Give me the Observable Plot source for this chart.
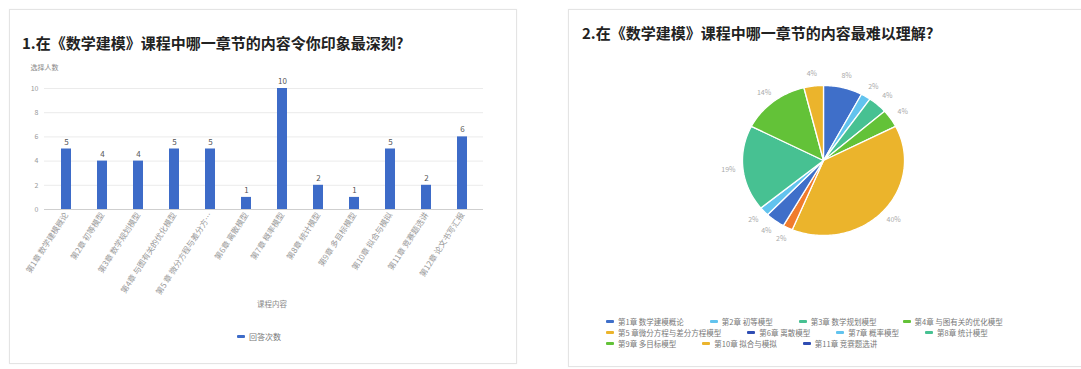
<!DOCTYPE html>
<html><head><meta charset="utf-8">
<script src="https://cdn.jsdelivr.net/npm/d3@7"></script>
<script src="https://cdn.jsdelivr.net/npm/@observablehq/plot@0.6"></script>
<style>
body{margin:0;background:#fff;font-family:"Noto Sans CJK SC","Noto Sans",sans-serif;width:1081px;height:369px;overflow:hidden;position:relative}
.card{position:absolute;border:1px solid #e4e4e4;background:#fff;box-shadow:0 0 2px rgba(0,0,0,0.04)}
.title{position:absolute;font-size:15px;font-weight:bold;color:#222;white-space:nowrap;line-height:1}
.abs{position:absolute}
.leg{position:absolute;font-size:7.5px;color:#777;white-space:nowrap;line-height:11px}
.sw{display:inline-block;width:8px;height:3px;border-radius:1px;vertical-align:middle;margin-right:4px;position:relative;top:-1px}
.item{margin-right:26px}
</style></head><body>
<div class="card" style="left:9px;top:9px;width:506px;height:353px"></div>
<div class="card" style="left:568px;top:9px;width:530px;height:356px"></div>
<div class="title" style="left:22px;top:35px">1.在《数学建模》课程中哪一章节的内容令你印象最深刻?</div>
<div class="title" style="left:582px;top:25px">2.在《数学建模》课程中哪一章节的内容最难以理解?</div>
<div id="bar" class="abs" style="left:10px;top:55px"></div>
<div id="barleg" class="leg" style="left:237px;top:331px;font-size:8px"></div>
<div id="pie" class="abs" style="left:568px;top:50px"></div>
<div id="pieleg" class="leg" style="left:606px;top:316px"></div>
<script>
// ---- data: bar chart ----
const barChapters = ["第1章 数学建模概论","第2章 初等模型","第3章 数学规划模型","第4章 与图有关的优化模型","第5 章 微分方程与差分方…","第6章 离散模型","第7章 概率模型","第8章 统计模型","第9章 多目标模型","第10章 拟合与模拟","第11章 竞赛题选讲","第12章 论文书写汇报"];
const barCounts = [5,4,4,5,5,1,10,2,1,5,2,6];
const yTicks = [0,2,4,6,8,10];
const barSeries = "回答次数";
const yLabel = "选择人数";
const xLabel = "课程内容";
// ---- data: pie chart ----
const pieChapters = ["第1章 数学建模概论","第2章 初等模型","第3章 数学规划模型","第4章 与图有关的优化模型","第5 章微分方程与差分方程模型","第6章 离散模型","第7章 概率模型","第8章 统计模型","第9章 多目标模型","第10章 拟合与模拟","第11章 竞赛题选讲"];
const piePercents = [8,2,4,4,40,2,4,2,19,14,4];
const pieColors = ["#3f6fc9","#62c3ee","#47c192","#63c238","#ebb42c","#f07c2c","#3f6fc9","#62c3ee","#47c192","#63c238","#ebb42c"];
const legendColors = ["#3f6fc9","#62c3ee","#47c192","#63c238","#ebb42c","#2f4db3","#62c3ee","#47c192","#63c238","#ebb42c","#2f4db3"];
const barColor = "#3d6bc8";

// ---- bar chart ----
const barData = barChapters.map((c,i)=>({c, v: barCounts[i]}));
const bar = Plot.plot({
  width: 500, height: 300,
  marginLeft: 34, marginRight: 27, marginTop: 33, marginBottom: 146,
  style: {fontFamily: '"Noto Sans CJK SC","Noto Sans",sans-serif', background: "transparent"},
  x: {domain: barChapters, paddingInner: 0.73, paddingOuter: 0.36},
  y: {domain: [0,10]},
  marks: [
    Plot.ruleY(yTicks.filter(d=>d>0), {stroke: "#ebebeb", strokeWidth: 1}),
    Plot.ruleY([0], {stroke: "#cfcfcf", strokeWidth: 1}),
    Plot.barY(barData, {x: "c", y: "v", fill: barColor}),
    Plot.text(barData, {x: "c", y: "v", text: d=>String(d.v), dy: -7, fontSize: 8, fill: "#555"}),
    Plot.axisY({ticks: yTicks, tickSize: 0, tickPadding: 6, fontSize: 7, color: "#999", label: null}),
    Plot.axisX({tickSize: 0, tickPadding: 4, tickRotate: -57, fontSize: 8, color: "#999", label: null}),
    Plot.text([yLabel], {frameAnchor: "top-left", dx: -14, dy: -23, textAnchor: "start", fontSize: 7, fill: "#888"}),
    Plot.text([xLabel], {frameAnchor: "bottom", dx: 8, dy: 97, fontSize: 7.5, fill: "#888"})
  ]
});
document.getElementById("bar").appendChild(bar);
document.getElementById("barleg").innerHTML = `<span class="sw" style="background:${barColor}"></span>${barSeries}`;

// ---- pie chart ----
const pieData = pieChapters.map((c,i)=>({c, v: piePercents[i]}));
const arcs = d3.pie().sort(null).value(d=>d.v)(pieData);
const pts = [];
const labels = [];
arcs.forEach(a => {
  const k = a.data.c;
  pts.push({k, x: 0, y: 0});
  const n = Math.max(2, Math.ceil((a.endAngle - a.startAngle) / 0.02));
  for (let j = 0; j <= n; j++) {
    const t = a.startAngle + (a.endAngle - a.startAngle) * j / n;
    pts.push({k, x: Math.sin(t), y: Math.cos(t)});
  }
  pts.push({k, x: 0, y: 0});
  const m = (a.startAngle + a.endAngle) / 2;
  labels.push({x: 1.18 * Math.sin(m), y: 1.16 * Math.cos(m), t: a.data.v + "%"});
});
const pie = Plot.plot({
  width: 510, height: 250,
  margin: 0,
  style: {fontFamily: '"Noto Sans CJK SC","Noto Sans",sans-serif', background: "transparent"},
  x: {domain: [-1,1], range: [174,336], axis: null},
  y: {domain: [-1,1], range: [185,35], axis: null},
  color: {domain: pieChapters, range: pieColors},
  marks: [
    Plot.line(pts, {x: "x", y: "y", z: "k", fill: "k", stroke: "white", strokeWidth: 1.3, strokeLinejoin: "round"}),
    Plot.text(labels, {x: "x", y: "y", text: "t", fontSize: 7, fill: "#aaa"})
  ]
});
document.getElementById("pie").appendChild(pie);
const rows = [[0,1,2,3],[4,5,6,7],[8,9,10]];
document.getElementById("pieleg").innerHTML = rows.map(r =>
  "<div>" + r.map(i => `<span class="item"><span class="sw" style="background:${legendColors[i]}"></span>${pieChapters[i]}</span>`).join("") + "</div>"
).join("");
</script>
</body></html>
